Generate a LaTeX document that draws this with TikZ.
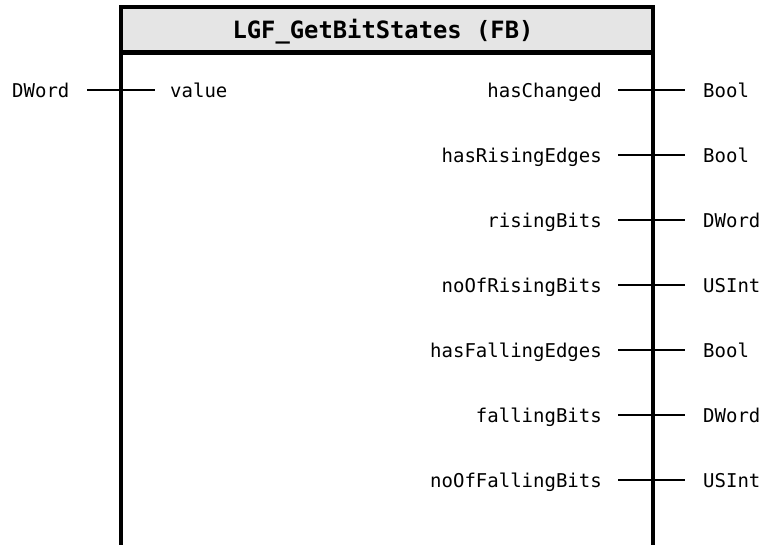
\documentclass[tikz,border=0pt]{standalone}
\usepackage{fontspec}
\setmonofont{DejaVu Sans Mono}
\begin{document}
\begin{tikzpicture}[x=1pt,y=-1pt,
  lbl/.style={font=\ttfamily\fontsize{19}{19}\selectfont, inner sep=0pt, text height=16pt, text depth=2pt},
  pin/.style={line width=1.2pt},
  frame/.style={line width=4.5pt}]
\useasboundingbox (0,0) rectangle (762,544);
\clip (0,0) rectangle (762,544);
\fill[black!10] (121,7) rectangle (653,52.5);
\draw[frame] (121,600) -- (121,7) -- (653,7) -- (653,600);
\draw[frame] (121,52.5) -- (653,52.5);
\node[font=\ttfamily\bfseries\fontsize{23.8}{24}\selectfont, inner sep=0pt, anchor=base] (title) at (383,38) {LGF\_GetBitStates (FB)};
\node[lbl, anchor=west] (dw) at (12,90) {DWord};
\node[lbl, anchor=west] (v) at (170,90) {value};
\draw[pin, shorten <=17.5pt, shorten >=15pt] (dw) -- (v);
\foreach \n/\t [count=\i from 0] in {hasChanged/Bool, hasRisingEdges/Bool, risingBits/DWord, noOfRisingBits/USInt, hasFallingEdges/Bool, fallingBits/DWord, noOfFallingBits/USInt} {
  \node[lbl, anchor=east] (o\i) at (602, 90+65*\i) {\n};
  \node[lbl, anchor=west] (t\i) at (703, 90+65*\i) {\t};
  \draw[pin, shorten <=16pt, shorten >=18pt] (o\i) -- (t\i);
}
\end{tikzpicture}
\end{document}
